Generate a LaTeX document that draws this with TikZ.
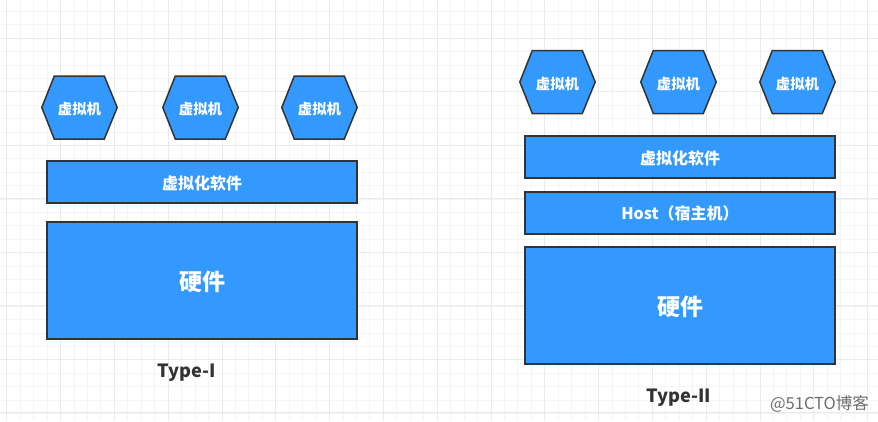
\documentclass[tikz,border=0pt]{standalone}
\usepackage{fontspec}
\setmainfont{Noto Sans CJK SC}
\definecolor{boxblue}{HTML}{3399FF}
\definecolor{boxline}{HTML}{333333}
\definecolor{gridminor}{HTML}{F4F4F4}
\definecolor{gridmajor}{HTML}{EAEAEA}
\definecolor{marktext}{HTML}{6E6E6E}
\tikzset{
  x=1pt,y=-1pt,
  bluebox/.style={draw=boxline,line width=1.5pt,fill=boxblue,inner sep=0pt,minimum height=#1,minimum width=310pt},
  bluebox/.default=42pt,
  boxtext/.style={text=white,font=\bfseries\fontsize{16}{18}\selectfont,inner sep=0pt},
  hwtext/.style={text=white,font=\bfseries\fontsize{23}{25}\selectfont,inner sep=0pt},
  hexshape/.style={draw=boxline,line width=1.5pt,fill=boxblue,line join=miter},
  hexlabel/.style={text=white,font=\bfseries\fontsize{14.4}{16}\selectfont,inner sep=0pt},
  typelabel/.style={text=boxline,font=\bfseries\fontsize{18.2}{22}\selectfont,inner sep=0pt},
  wmark/.style={text=marktext,font=\fontsize{16.5}{18}\selectfont,inner sep=0pt},
}
\newcommand{\hexat}[3]{%
  \draw[hexshape] (#1-37.7,#2) -- (#1-25.2,#2-31.5) -- (#1+24.8,#2-31.5) -- (#1+37.7,#2) -- (#1+24.8,#2+31.5) -- (#1-25.2,#2+31.5) -- cycle;
  \node[hexlabel] (#3) at (#1,#2+2) {虚拟机};
}
\begin{document}
\begin{tikzpicture}
\useasboundingbox (0,0) rectangle (878,421);
\fill[white] (0,0) rectangle (878,421);
\foreach \i in {0,...,66} {\draw[gridminor,line width=1pt] ({6.8+13.45*\i},0) -- ({6.8+13.45*\i},421);}
\foreach \i in {0,...,31} {\draw[gridminor,line width=1pt] (0,{11.5+13.4*\i}) -- (878,{11.5+13.4*\i});}
\foreach \i in {0,...,16} {\draw[gridmajor,line width=1pt] ({6.9+53.8*\i},0) -- ({6.9+53.8*\i},421);}
\foreach \i in {0,...,7} {\draw[gridmajor,line width=1pt] (0,{38.2+53.5*\i}) -- (878,{38.2+53.5*\i});}

\hexat{79.5}{107.5}{la}
\hexat{200.5}{107.5}{lb}
\hexat{319.5}{107.5}{lc}
\node[bluebox,label={[boxtext,yshift=-1pt]center:虚拟化软件}] (lsoft) at (202,182) {};
\node[bluebox=117pt,label={[hwtext,yshift=-1.8pt]center:硬件}] (lhw) at (202,280.5) {};
\node[typelabel] (ltype) at (187,372.5) {Type-I};

\hexat{557.5}{82}{ra}
\hexat{678.5}{82}{rb}
\hexat{797.5}{82}{rc}
\node[bluebox,label={[boxtext,yshift=-1pt]center:虚拟化软件}] (rsoft) at (680,157) {};
\node[bluebox,label={[boxtext]center:Host（宿主机）}] (rhost) at (680,213) {};
\node[bluebox=117pt,label={[hwtext,yshift=-1.8pt]center:硬件}] (rhw) at (680,305.5) {};
\node[typelabel] (rtype) at (678.5,397.5) {Type-II};

\node[wmark] (mark) at (819.5,403.5) {@51CTO博客};
\end{tikzpicture}
\end{document}
